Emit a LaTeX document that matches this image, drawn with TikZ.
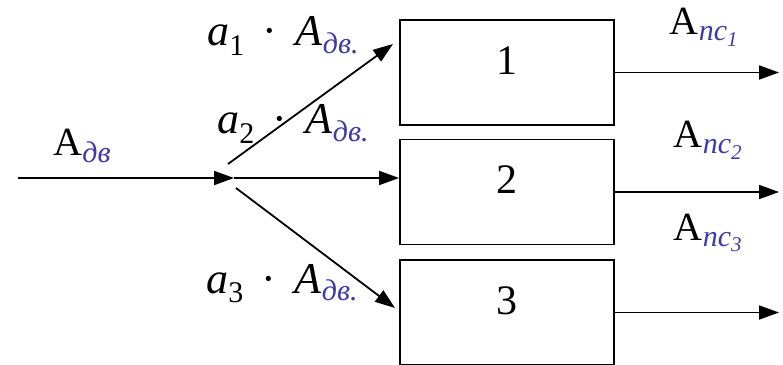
\documentclass[tikz,border=0pt]{standalone}
\usepackage{fontspec}
\setmainfont{Liberation Serif}
\usetikzlibrary{arrows.meta,positioning}
\definecolor{handblue}{RGB}{62,58,168}
\newcommand\lowsub[1]{\raisebox{-0.45ex}{\fontsize{30}{32}\selectfont #1}}
\newcommand\hand[1]{\raisebox{-0.35ex}{\fontsize{30}{32}\selectfont\itshape\color{handblue}#1}}

\begin{document}
\begin{tikzpicture}[
      x=1pt, y=-1pt,
      box/.style={
          draw,
          line width=1.8pt,
          minimum width=214pt,
          minimum height=105pt,
          inner sep=0pt,
          text depth=24pt,
          font=\fontsize{42}{46}\selectfont
        },
      flow/.style={line width=1.8pt, -{Triangle[length=20pt,width=14pt]}},
      lbl/.style={inner sep=0pt, font=\fontsize{44}{48}\selectfont}
    ]
    \useasboundingbox (0,0) rectangle (783,364);
    \clip (0,0) rectangle (783,364);

    % blocks
    \node[box] (b1) at (507,72.5) {1};
    \node[box] (b2) at (507,192) {2};
    \node[box] (b3) at (507,312.5) {3};

    % branch point and free ends
    \coordinate (in) at (18,178);
    \coordinate (split) at (234,178);
    \coordinate (s1) at (228,164);
    \coordinate (s3) at (236,188);
    \coordinate (t1) at (393,44);
    \coordinate (t3) at (395,308);
    \coordinate (out) at (779,0);

    \draw[flow] (in) -- (split);
    \draw[flow] (s1) -- (t1);
    \draw[flow] (split) -- (split -| b2.west);
    \draw[flow] (s3) -- (t3);

    \draw[flow] (b1.east) -- (b1.east -| out);
    \draw[flow] (b2.east) -- (b2.east -| out);
    \draw[flow] (b3.east) -- (b3.east -| out);

    % labels
    \node[lbl, font=\fontsize{40}{44}\selectfont] (lin) at (82,146) {A\hand{дв}};
    \node[lbl] (l1) at (283,36) {\textit{a}\lowsub{1}\, · \,\textit{A}\hand{дв.}};
    \node[lbl] (l2) at (293,124) {\textit{a}\lowsub{2}\, · \,\textit{A}\hand{дв.}};
    \node[lbl] (l3) at (282,284) {\textit{a}\lowsub{3}\, · \,\textit{A}\hand{дв.}};
    \node[lbl, font=\fontsize{40}{44}\selectfont] (p1) at (704,27) {A\hand{пс\textsubscript{1}}};
    \node[lbl, font=\fontsize{40}{44}\selectfont] (p2) at (708,140) {A\hand{пс\textsubscript{2}}};
    \node[lbl, font=\fontsize{40}{44}\selectfont] (p3) at (708,233) {A\hand{пс\textsubscript{3}}};
  \end{tikzpicture}
\end{document}
